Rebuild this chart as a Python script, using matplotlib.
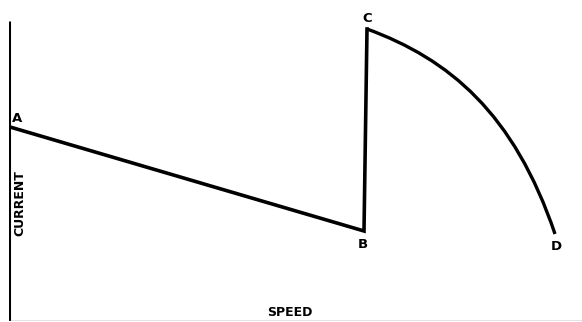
import matplotlib.pyplot as plt
from matplotlib.path import Path
from matplotlib.patches import PathPatch

plt.rcParams['font.family'] = ['DejaVu Sans']

# curve points, chart units measured from the axis corner
seg_x = [1, 355, 358]          # A -> B -> C
seg_y = [194, 90, 292]
# C -> D drawn as one cubic bezier: start, two handles, end
arc_x = [358, 440, 505, 546]
arc_y = [292, 262, 208, 87]

point_names = ['A', 'B', 'C', 'D']
point_x = [8, 354, 358, 547]
point_y = [203, 77, 303, 75]

fig = plt.figure(figsize=(5.82, 3.22), dpi=100)
ax = fig.add_axes([9 / 582, 1 / 322, 573 / 582, 318 / 322])
ax.set_xlim(0, 573)
ax.set_ylim(0, 318)
ax.axis('off')

# axes drawn by hand: heavy vertical, faint horizontal
ax.plot([0, 0], [0, 300], color='black', lw=2.2, solid_capstyle='butt')
ax.plot([0, 573], [0, 0], color='0.45', lw=1.0)

ax.plot(seg_x, seg_y, color='black', lw=2.6, solid_joinstyle='miter')
arc = Path(list(zip(arc_x, arc_y)), [Path.MOVETO, Path.CURVE4, Path.CURVE4, Path.CURVE4])
ax.add_patch(PathPatch(arc, facecolor='none', edgecolor='black', lw=2.4, capstyle='butt'))

for name, x, y in zip(point_names, point_x, point_y):
    ax.text(x, y, name, fontsize=9.5, fontweight='bold', ha='center', va='center')

ax.text(11, 118, 'CURRENT', rotation=90, fontsize=9, fontweight='bold',
        ha='center', va='center')
ax.text(281, 8, 'SPEED', fontsize=9, fontweight='bold', ha='center', va='center')

plt.savefig('out.png', dpi=100)
